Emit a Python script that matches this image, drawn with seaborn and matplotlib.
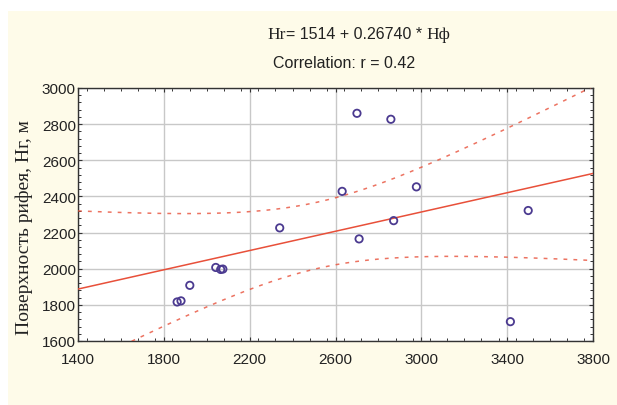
import numpy as np
import pandas as pd
import matplotlib
matplotlib.use("Agg")
import matplotlib.pyplot as plt
import seaborn as sns
from matplotlib.offsetbox import TextArea, HPacker, AnchoredOffsetbox
from matplotlib.patches import Rectangle
from matplotlib.ticker import MultipleLocator

# ---- data ----
h_phi = [1862, 1880, 1921, 2042, 2065, 2075, 2340, 2631, 2710, 2700, 2858, 2871, 2977, 3498, 3415]
h_r   = [1816, 1822, 1908, 2007, 1996, 1998, 2226, 2428, 2165, 2860, 2827, 2266, 2453, 2322, 1707]
x_ticks = [1400, 1800, 2200, 2600, 3000, 3400, 3800]
y_ticks = [1600, 1800, 2000, 2200, 2400, 2600, 2800, 3000]
title1_parts = ["Hr", "= 1514 + 0.26740 * ", "Hф"]
title2 = "Correlation: r = 0.42"
ylabel = "Поверхность рифея, Hг, м"

df = pd.DataFrame({"x": h_phi, "y": h_r})

sns.set_theme(style="white")
plt.rcParams["font.family"] = ["Liberation Sans", "DejaVu Sans"]

fig = plt.figure(figsize=(6.17, 4.06), dpi=100)
fig.patch.set_facecolor("white")
bg = Rectangle((8 / 617, 0), 1, 1 - 12 / 406, transform=fig.transFigure,
               facecolor="#FEFBE9", edgecolor="none", zorder=-10)
fig.add_artist(bg)
ax = fig.add_axes([78 / 617, 1 - 342 / 406, (593 - 78) / 617, (342 - 89) / 406])
ax.set_zorder(5)
ax.set_facecolor("white")

# regression and 95% confidence band of the mean
x = np.asarray(h_phi, float)
y = np.asarray(h_r, float)
n = len(x)
b, a = np.polyfit(x, y, 1)
resid = y - (a + b * x)
s = np.sqrt(np.sum(resid ** 2) / (n - 2))
t = 2.160  # t(0.975, 13)
xg = np.linspace(x_ticks[0], x_ticks[-1], 300)
yfit = a + b * xg
half = t * s * np.sqrt(1 / n + (xg - x.mean()) ** 2 / np.sum((x - x.mean()) ** 2))

line_col = "#E8503A"
ax.plot(xg, yfit, color=line_col, lw=1.1, zorder=3)
ax.plot(xg, yfit + half, color=line_col, lw=1.1, ls=(0, (2.5, 4)), alpha=0.8, zorder=3)
ax.plot(xg, yfit - half, color=line_col, lw=1.1, ls=(0, (2.5, 4)), alpha=0.8, zorder=3)

sns.scatterplot(data=df, x="x", y="y", ax=ax, marker="o", s=28,
                facecolor="none", edgecolor="#4B3A90", linewidth=1.3, zorder=4)

ax.set_xlim(x_ticks[0], x_ticks[-1])
ax.set_ylim(y_ticks[0], y_ticks[-1])
ax.set_xticks(x_ticks)
ax.set_yticks(y_ticks)
ax.xaxis.set_minor_locator(MultipleLocator(80))
ax.yaxis.set_minor_locator(MultipleLocator(40))
ax.grid(True, which="major", color="#C8C8C8", lw=1.0, zorder=1)
ax.set_axisbelow(True)
for sp in ax.spines.values():
    sp.set_visible(True)
    sp.set_color("#333333")
    sp.set_linewidth(1.0)
ax.tick_params(which="both", direction="in", top=True, right=True, bottom=True, left=True,
               colors="#333333", labelcolor="#222222")
ax.tick_params(which="major", length=3, width=0.8, labelsize=11)
ax.tick_params(axis="x", which="major", pad=8)
ax.tick_params(axis="y", which="major", pad=1.5)
ax.tick_params(which="minor", length=2, width=0.7)
ax.set_xlabel("")
ax.set_ylabel(ylabel, family=["Liberation Serif", "DejaVu Serif"], fontsize=14,
              color="#222222")
ax.yaxis.set_label_coords((33 - 78) / 515, (342 - 228) / 253)

# title line 1 with mixed fonts
serif = dict(family=["Liberation Serif", "DejaVu Serif"], size=12.5, color="#222222")
sans = dict(family=["Liberation Sans", "DejaVu Sans"], size=11.5, color="#222222")
parts = [TextArea(title1_parts[0], textprops=serif),
         TextArea(title1_parts[1], textprops=sans),
         TextArea(title1_parts[2], textprops=serif)]
box = HPacker(children=parts, align="baseline", pad=0, sep=0)
anch = AnchoredOffsetbox(loc="center", child=box, frameon=False,
                         bbox_to_anchor=(359 / 617, 1 - 35 / 406),
                         bbox_transform=fig.transFigure, pad=0, borderpad=0)
fig.add_artist(anch)
fig.text(344 / 617, 1 - 63 / 406, title2, ha="center", va="center", fontsize=11.5, color="#222222")

fig.savefig("out.png", dpi=100, facecolor=fig.get_facecolor())
